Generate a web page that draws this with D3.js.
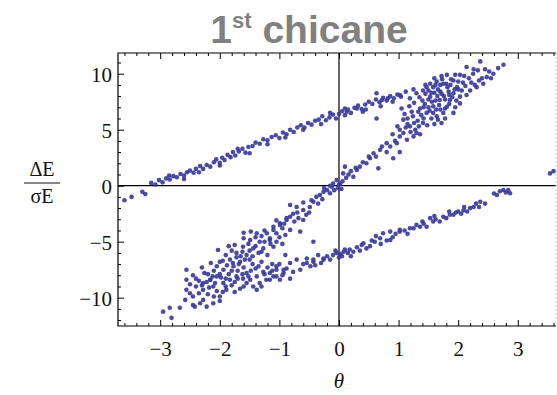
<!DOCTYPE html>
<html>
<head>
<meta charset="utf-8">
<script src="https://cdn.jsdelivr.net/npm/d3@7"></script>
<style>
  body { margin: 0; background: #fff; }
  svg { display: block; }
  .tick text { font-family: "Liberation Serif", "Times New Roman", serif; font-size: 21px; fill: #111; }
</style>
</head>
<body>
<div id="chart"></div>
<script>
// values: [theta, dE/sigmaE]
const upperArm = [
  [-3.6,-1.3],[-3.48,-1.0],[-3.3,-0.55],[-3.25,-0.75],[-3.15,0.25],[-3.08,0.1],[-3.02,0.5],[-2.96,0.3],
  [-2.9,0.65],[-2.84,0.55],[-2.78,0.85],[-2.72,0.75],[-2.66,1.05],[-2.6,0.9],[-2.55,1.2],[-2.5,1.35],
  [-2.44,1.15],[-2.4,1.5],[-2.33,1.75],[-2.28,1.5],[-2.22,1.85],[-2.16,1.7],[-2.1,2.1],[-2.06,2.35],
  [-2.0,2.05],[-1.96,2.5],[-1.92,2.3],[-1.87,2.75],[-1.82,2.55],[-1.78,3.0],[-1.74,2.7],[-1.68,3.05],
  [-1.62,3.3],[-1.57,2.95],[-1.52,3.45],[-1.45,3.55],[-1.4,3.85],[-1.33,3.75],[-1.27,4.15],[-1.2,4.05],
  [-1.13,4.35],[-1.06,4.5],[-1.0,4.25],[-0.94,4.75],[-0.88,4.6],[-0.82,5.0],[-0.76,4.8],[-0.7,5.2],
  [-0.64,5.4],[-0.58,5.2],[-0.52,5.6],[-0.46,5.45],[-0.4,5.8],[-0.34,5.9],[-0.28,6.2],[-0.22,5.85],
  [-0.16,6.1],[-0.1,6.35],[-0.05,6.0],[0.0,6.4],[0.05,6.65],[0.1,6.3],[0.15,6.8],[0.2,6.5],
  [0.26,6.95],[0.32,7.15],[0.38,6.85],[0.44,7.25],[0.5,7.5],[0.56,7.3],[0.62,7.7],[0.68,7.45],
  [0.74,7.85],[0.8,7.6],[0.86,8.0],[0.92,7.8],[0.98,8.15],[1.04,7.95],[0.63,8.25],[1.05,6.9],
  [0.63,6.0],[0.72,7.65],[0.82,7.8],[1.02,8.1],[1.19,7.8],[1.3,8.25],[1.41,8.5],[1.12,8.4],
  [1.25,8.6],[1.35,7.9],[1.45,9.0],[0.13,6.6],[0.3,6.9],[0.4,6.6],
  [-2.35,1.2],[-2.0,1.8],[-1.7,3.3],[-1.5,2.9],[-1.2,3.7],[-0.9,4.3],[-0.6,5.0],[-0.3,5.5],
  [-0.15,6.5],[0.1,6.9],[0.45,6.8],[0.7,7.1],[0.9,7.5],[-2.6,0.6],[-2.85,0.9]
];

const centralArm = [
  [-1.16,-4.85],[-1.1,-5.45],[-1.1,-3.66],[-1.05,-4.25],[-0.99,-3.36],[-0.95,-3.8],[-0.88,-3.06],[-0.82,-2.77],
  [-0.82,-3.95],[-0.77,-2.5],[-0.71,-1.9],[-0.68,-2.9],[-0.65,-4.1],[-0.6,-2.17],[-0.55,-2.6],[-0.49,-1.9],
  [-0.46,-1.3],[-0.43,-1.43],[-0.38,-1.0],[-0.32,-0.83],[-0.28,-1.2],[-0.26,-0.55],[-0.2,-0.4],[-0.15,-0.68],
  [-0.12,-0.1],[-0.1,0.2],[-0.08,-0.4],[-0.04,0.5],[-0.02,-0.2],[0.0,0.1],[0.02,0.2],[0.04,-0.3],
  [0.06,0.4],[0.07,1.1],[0.1,1.7],[0.12,0.7],[0.16,1.0],[0.2,1.3],[0.24,0.8],[0.28,1.6],
  [0.3,1.4],[0.35,1.7],[0.4,2.1],[0.46,2.0],[0.5,2.6],[0.52,2.45],[0.58,2.9],[0.62,2.6],
  [0.66,1.55],[0.69,3.2],[0.72,3.5],[0.8,3.0],[0.8,3.8],[0.86,3.5],[0.91,2.45],[0.94,4.0],
  [0.97,3.8],[1.02,3.0],[1.02,4.4],[1.08,4.7],[1.14,4.1],[1.12,5.2],
  [-0.75,-3.2],[-0.92,-3.4],[-1.05,-3.1],[-0.7,-2.4],[-0.6,-1.5],[-0.5,-2.4],[-0.35,-1.6],[-0.25,-0.2],
  [-0.15,0.0],[0.9,4.6],[0.98,5.3]
];

const upperCluster = [
  [1.02,5.0],[1.08,5.9],[1.15,5.5],[1.19,5.3],[1.22,6.6],[1.24,6.2],[1.28,5.0],[1.3,4.7],
  [1.32,5.8],[1.36,6.9],[1.38,6.3],[1.41,5.6],[1.44,7.3],[1.47,6.5],[1.47,8.8],[1.5,7.0],
  [1.53,7.95],[1.53,9.1],[1.55,6.0],[1.58,7.1],[1.6,8.3],[1.62,7.6],[1.64,6.2],[1.64,9.3],
  [1.66,8.6],[1.69,7.65],[1.7,9.0],[1.72,5.6],[1.72,8.2],[1.75,6.5],[1.75,9.1],[1.78,7.7],
  [1.8,9.1],[1.81,7.05],[1.81,9.9],[1.84,8.4],[1.86,7.65],[1.88,9.5],[1.92,6.5],[1.92,8.25],
  [1.92,9.4],[1.95,9.9],[1.98,8.8],[2.03,7.95],[2.03,9.9],[2.03,7.35],[2.08,9.2],[2.14,8.1],
  [2.14,10.6],[2.18,9.6],[2.2,8.5],[2.25,10.0],[2.28,9.0],[2.31,8.8],[2.33,10.3],[2.37,11.1],
  [2.4,9.6],[2.42,9.1],[2.48,9.7],[2.52,10.2],[2.59,10.0],[2.67,10.5],[2.76,10.8],
  [1.1,6.4],[1.18,7.1],[1.26,7.4],[1.33,6.6],[1.4,7.6],[1.45,8.2],[1.5,8.5],[1.52,6.7],
  [1.56,7.5],[1.58,8.8],[1.6,9.6],[1.63,6.8],[1.65,8.0],[1.68,7.2],[1.7,8.4],[1.73,9.5],
  [1.76,8.0],[1.78,6.9],[1.82,8.8],[1.85,7.3],[1.87,9.0],[1.9,7.9],[1.94,8.6],[1.97,7.6],
  [2.0,9.3],[2.06,8.5],[2.1,9.8],[2.12,8.9],[2.22,9.2],[2.26,10.4],[2.35,9.4],[2.45,10.4],
  [2.55,9.6],[1.15,6.0],[1.2,4.8],[1.26,5.6],[1.34,5.3],[1.42,6.0],[1.48,5.4],[1.58,6.5],
  [1.66,5.9],[1.7,6.8],[1.78,6.0],[1.6,5.5],[1.36,4.6],[1.25,4.4],[1.85,8.1],[1.95,7.0],
  [1.62,9.0],[1.55,8.3],[1.72,9.8],[2.0,8.6],[1.42,7.0],[1.5,7.7]
];

const lowerArm = [
  [-0.65,-7.5],[-0.6,-7.0],[-0.54,-6.5],[-0.54,-6.9],[-0.48,-7.2],[-0.43,-6.8],[-0.43,-6.6],[-0.35,-6.2],
  [-0.3,-6.9],[-0.26,-6.6],[-0.26,-6.5],[-0.2,-6.3],[-0.1,-6.2],[-0.06,-5.8],[-0.04,-6.0],[0.0,-6.4],
  [0.03,-6.1],[0.05,-6.3],[0.08,-5.9],[0.1,-5.7],[0.15,-6.0],[0.18,-5.7],[0.24,-5.9],[0.3,-5.5],
  [0.38,-5.3],[0.41,-5.15],[0.46,-5.6],[0.52,-5.4],[0.6,-5.0],[0.69,-4.7],[0.74,-4.25],[0.8,-4.9],
  [0.86,-4.85],[0.86,-4.1],[0.95,-4.3],[1.02,-4.1],[1.02,-3.95],[1.1,-4.0],[1.19,-3.8],[1.25,-3.8],
  [1.3,-3.5],[1.36,-3.66],[1.42,-3.4],[1.47,-3.66],[1.53,-2.9],[1.58,-3.2],[1.62,-3.0],[1.69,-3.2],
  [1.75,-2.77],[1.8,-2.9],[1.86,-2.6],[1.92,-2.6],[1.96,-2.4],[2.0,-2.3],[2.05,-2.5],[2.09,-2.2],
  [2.15,-2.3],[2.2,-2.0],[2.26,-1.9],[2.37,-1.43],[2.45,-1.6],[2.6,-0.7],[2.65,-0.83],[2.7,-0.5],
  [2.76,-0.38],[2.8,-0.6],[2.87,-0.68],[2.84,-0.4],[3.54,1.1],[3.6,1.3],
  [0.2,-6.3],[0.35,-5.8],[0.55,-4.9],[0.7,-5.2],[0.9,-4.6],[1.15,-4.3],[1.4,-3.2],[1.6,-2.7],
  [1.85,-2.3],[2.1,-1.9],[2.3,-1.6],[2.35,-1.9],[-0.15,-6.6],[-0.4,-7.1],[0.62,-4.5],
  [-0.71,-6.6],[-0.77,-7.7],[-0.82,-6.9],[-0.82,-8.3],[-0.88,-7.4],[-0.93,-7.8],[-0.93,-7.5],[-0.99,-8.4],
  [-1.05,-7.5],[-1.05,-7.2],[-1.05,-8.1],[-1.1,-8.1],[-1.16,-7.8],[-1.16,-8.4],[-1.27,-7.7],[-1.33,-8.7],
  [-1.38,-8.1],[-1.38,-9.3],[-1.44,-9.0],[-1.49,-8.4],[-1.55,-8.7],[-1.61,-8.3],[-1.66,-9.2],[-1.72,-8.1],
  [-1.83,-8.4],[-1.89,-9.3],[-1.94,-8.7],[-2.0,-9.9],[-2.11,-9.0],[-2.11,-10.5],[-2.16,-8.4],[-2.22,-10.8],
  [-2.28,-9.3],[-2.28,-8.7],[-2.28,-10.2],[-2.33,-10.5],[-2.42,-10.8],[-2.45,-9.9],[-2.45,-10.65],[-2.56,-9.3],
  [-2.56,-8.4],[-2.58,-10.2],[-2.67,-10.9],[-2.84,-10.9],[-2.81,-11.8],[-2.95,-11.25]
];

const lowerCluster = [
  [-0.82,-1.72],[-0.88,-2.9],[-0.99,-3.5],[-1.1,-3.95],[-1.21,-4.25],[-1.16,-4.7],[-1.38,-4.25],[-1.33,-5.0],
  [-1.49,-4.85],[-1.44,-5.6],[-1.61,-5.45],[-1.72,-6.0],[-1.55,-6.2],[-1.66,-6.8],[-1.83,-6.6],[-1.77,-7.2],
  [-1.94,-7.5],[-2.05,-8.1],[-2.0,-6.8],[-2.16,-8.4],[-2.03,-5.74],[-2.56,-7.5],[-1.27,-5.6],[-1.2,-6.2],
  [-1.35,-6.0],[-1.5,-6.6],[-1.45,-7.0],[-1.6,-7.3],[-1.7,-7.6],[-1.85,-7.9],[-1.98,-8.2],[-2.1,-7.6],
  [-2.2,-7.9],[-2.35,-8.5],[-2.4,-9.0],[-1.9,-6.2],[-1.75,-5.3],[-1.6,-4.7],[-1.4,-4.6],[-1.25,-4.0],
  [-1.0,-4.6],[-0.95,-5.2],[-1.3,-6.8],[-1.4,-7.4],[-1.55,-7.8],[-1.75,-8.6],[-1.9,-9.0],[-2.05,-9.4],
  [-2.2,-9.7],[-1.8,-5.8],[-1.65,-6.3],[-1.52,-5.2],[-1.12,-7.0],[-1.2,-7.3],[-0.9,-6.2],[-2.45,-8.0],
  [-2.3,-7.3],[-0.43,-5.0],[-0.6,-3.06],
  [-1.15,-5.2],[-1.25,-5.0],[-1.3,-5.9],[-1.4,-5.4],[-1.45,-6.3],[-1.5,-5.8],[-1.58,-6.6],[-1.62,-5.9],
  [-1.68,-7.0],[-1.72,-6.4],[-1.78,-6.9],[-1.8,-7.6],[-1.88,-7.1],[-1.9,-8.3],[-1.95,-6.7],[-2.0,-7.9],
  [-2.05,-7.2],[-2.08,-8.7],[-2.12,-8.1],[-2.18,-9.1],[-2.22,-8.6],[-2.26,-7.8],[-2.3,-8.9],[-2.35,-9.6],
  [-2.4,-8.3],[-2.5,-8.8],[-2.5,-9.6],[-1.35,-7.2],[-1.48,-7.6],[-1.52,-8.1],[-1.62,-7.9],[-1.7,-8.3],
  [-1.8,-8.9],[-1.25,-7.9],[-1.12,-7.6],[-1.0,-7.0],[-0.95,-8.0],[-1.22,-8.4],[-1.3,-9.0],[-1.6,-9.0],
  [-1.75,-9.5],[-1.95,-9.5],[-2.1,-9.9],[-2.0,-10.3],[-2.15,-6.9],[-1.85,-5.4],[-1.6,-4.2],[-1.48,-4.1],
  [-1.3,-4.5],[-1.05,-5.0],[-0.9,-4.4]
];

const xMajor = [-3, -2, -1, 0, 1, 2, 3];
const yMajor = [-10, -5, 0, 5, 10];

const FRAME = {left: 118, right: 556, top: 53, bottom: 326};
const DOT = '#3c3c9b';

const svg = d3.select('#chart').append('svg')
  .attr('width', 557)
  .attr('height', 395);

const x = d3.scaleLinear().domain([-3.708, 3.641]).range([FRAME.left, FRAME.right]);
const y = d3.scaleLinear().domain([-12.53, 11.85]).range([FRAME.bottom, FRAME.top]);

const xMinor = d3.range(-3.6, 3.61, 0.2).map(v => +v.toFixed(1)).filter(v => !xMajor.includes(v));
const yMinor = d3.range(-12, 12, 1).filter(v => !yMajor.includes(v));

const fmt = d => d < 0 ? '\u2212' + Math.abs(d) : String(d);

// axes through the origin
svg.append('line')
  .attr('x1', x(0)).attr('x2', x(0)).attr('y1', FRAME.top).attr('y2', FRAME.bottom)
  .attr('stroke', '#000').attr('stroke-width', 1.2);
svg.append('line')
  .attr('x1', FRAME.left).attr('x2', FRAME.right).attr('y1', y(0)).attr('y2', y(0))
  .attr('stroke', '#000').attr('stroke-width', 1.2);

// points
const allPoints = [].concat(upperArm, centralArm, upperCluster, lowerArm, lowerCluster)
  .filter(d => x(d[0]) > FRAME.left && x(d[0]) < FRAME.right);

svg.append('g')
  .selectAll('circle')
  .data(allPoints)
  .join('circle')
  .attr('cx', d => x(d[0]))
  .attr('cy', d => y(d[1]))
  .attr('r', 2.3)
  .attr('fill', DOT)
  .attr('fill-opacity', 0.92);

// inward ticks
function addAxis(axis, transform, cls) {
  const g = svg.append('g').attr('class', cls).attr('transform', transform).call(axis);
  g.select('.domain').remove();
  g.selectAll('.tick line').attr('stroke', '#000');
  return g;
}

addAxis(d3.axisBottom(x).tickValues(xMajor).tickSize(-6).tickPadding(12).tickFormat(fmt),
  `translate(0,${FRAME.bottom})`, 'x-axis');
addAxis(d3.axisBottom(x).tickValues(xMinor).tickSize(-3).tickFormat(''),
  `translate(0,${FRAME.bottom})`, 'x-minor');
addAxis(d3.axisTop(x).tickValues(xMajor).tickSize(-6).tickFormat(''),
  `translate(0,${FRAME.top})`, 'x-top');
addAxis(d3.axisTop(x).tickValues(xMinor).tickSize(-3).tickFormat(''),
  `translate(0,${FRAME.top})`, 'x-top-minor');

addAxis(d3.axisLeft(y).tickValues(yMajor).tickSize(-6).tickPadding(6).tickFormat(fmt),
  `translate(${FRAME.left},0)`, 'y-axis');
addAxis(d3.axisLeft(y).tickValues(yMinor).tickSize(-3).tickFormat(''),
  `translate(${FRAME.left},0)`, 'y-minor');

svg.selectAll('.x-axis .tick text').attr('dy', '0.85em');
svg.selectAll('.y-axis .tick text').attr('dy', '0.35em');

// frame
svg.append('path')
  .attr('d', `M${FRAME.right},${FRAME.top}H${FRAME.left}V${FRAME.bottom}H${FRAME.right}`)
  .attr('fill', 'none').attr('stroke', '#000').attr('stroke-width', 1.2);
svg.append('line')
  .attr('x1', FRAME.right).attr('x2', FRAME.right).attr('y1', FRAME.top).attr('y2', FRAME.bottom)
  .attr('stroke', '#ccc').attr('stroke-width', 1).attr('stroke-dasharray', '2,2');

// title
const title = svg.append('text')
  .attr('x', 309).attr('y', 43)
  .attr('text-anchor', 'middle')
  .attr('font-family', 'Liberation Sans, Arial, sans-serif')
  .attr('font-weight', 'bold')
  .attr('font-size', 39)
  .attr('fill', '#808080');
title.append('tspan').text('1');
title.append('tspan').attr('font-size', 22).attr('dy', -15).text('st');
title.append('tspan').attr('dy', 15).text(' chicane');

// x label
svg.append('text')
  .attr('x', x(0)).attr('y', 388)
  .attr('text-anchor', 'middle')
  .attr('font-family', 'Liberation Serif, Times New Roman, serif')
  .attr('font-style', 'italic')
  .attr('font-size', 21)
  .attr('fill', '#111')
  .text('\u03b8');

// y label as a fraction
const yl = svg.append('g').attr('font-family', 'Liberation Serif, Times New Roman, serif')
  .attr('font-size', 20).attr('fill', '#111').attr('text-anchor', 'middle');
yl.append('text').attr('x', 42).attr('y', 176).text('\u0394E');
yl.append('line').attr('x1', 24).attr('x2', 60).attr('y1', 183).attr('y2', 183)
  .attr('stroke', '#111').attr('stroke-width', 1);
yl.append('text').attr('x', 42).attr('y', 203).text('\u03c3E');
</script>
</body>
</html>
